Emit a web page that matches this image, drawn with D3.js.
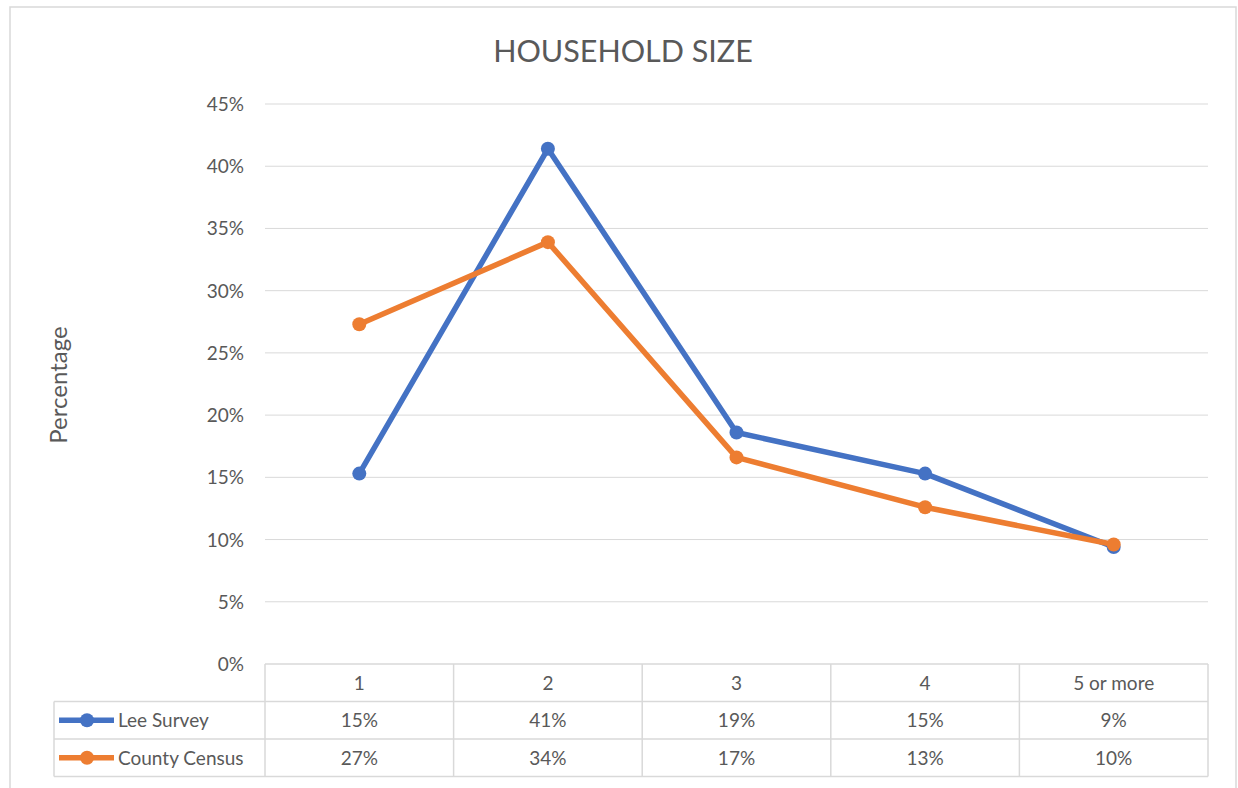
<!DOCTYPE html>
<html>
<head>
<meta charset="utf-8">
<script src="https://cdn.jsdelivr.net/npm/d3@7"></script>
<style>
  body { margin: 0; background: #fff; }
  text { font-family: Lato, "Open Sans", sans-serif; fill: #595959; }
</style>
</head>
<body>
<svg></svg>
<script>
// data
const categories = ['1', '2', '3', '4', '5 or more'];
const leeSurvey = [15.3, 41.4, 18.6, 15.3, 9.4];
const countyCensus = [27.3, 33.9, 16.6, 12.6, 9.6];
const seriesNames = ['Lee Survey', 'County Census'];
const seriesColors = ['#4472C4', '#ED7D31'];
const yTicks = [0, 5, 10, 15, 20, 25, 30, 35, 40, 45];

const width = 1238, height = 788;
const plotLeft = 265, plotRight = 1208, plotTop = 104, plotBottom = 664;
const rowH = 37.5;
const fs = '19px';

const svg = d3.select('svg')
    .attr('width', width)
    .attr('height', height);

// outer frame
svg.append('rect')
    .attr('x', 10).attr('y', 7)
    .attr('width', 1226).attr('height', 800)
    .attr('fill', 'none')
    .attr('stroke', '#d9d9d9')
    .attr('stroke-width', 1.5);

let x = d3.scalePoint()
    .domain(categories)
    .range([plotLeft, plotRight])
    .padding(0.5);

let xBand = d3.scaleBand()
    .domain(categories)
    .range([plotLeft, plotRight]);

let y = d3.scaleLinear()
    .domain([0, 45])
    .range([plotBottom, plotTop]);

// gridlines
svg.append('g')
    .selectAll('line')
    .data(yTicks.filter(d => d > 0))
    .enter()
    .append('line')
        .attr('x1', plotLeft).attr('x2', plotRight)
        .attr('y1', d => y(d)).attr('y2', d => y(d))
        .attr('stroke', '#d9d9d9')
        .attr('stroke-width', 1);

// y tick labels
svg.append('g')
    .selectAll('text')
    .data(yTicks)
    .enter()
    .append('text')
        .attr('x', 244)
        .attr('y', d => y(d) + 7)
        .attr('text-anchor', 'end')
        .style('font-size', fs)
        .text(d => d + '%');

// title
svg.append('text')
    .attr('x', 623).attr('y', 62)
    .attr('text-anchor', 'middle')
    .style('font-size', '30.5px')
    .text('HOUSEHOLD SIZE');

// y axis title
svg.append('text')
    .attr('transform', 'translate(67,385) rotate(-90)')
    .attr('text-anchor', 'middle')
    .style('font-size', '24px')
    .text('Percentage');

// lines and markers
const allSeries = [leeSurvey, countyCensus];
const line = d3.line()
    .x((d, i) => x(categories[i]))
    .y(d => y(d));

allSeries.forEach((vals, s) => {
    svg.append('path')
        .datum(vals)
        .attr('d', line)
        .attr('fill', 'none')
        .attr('stroke', seriesColors[s])
        .attr('stroke-width', 5.5)
        .attr('stroke-linejoin', 'round');
    svg.append('g')
        .selectAll('circle')
        .data(vals)
        .enter()
        .append('circle')
            .attr('cx', (d, i) => x(categories[i]))
            .attr('cy', d => y(d))
            .attr('r', 7)
            .attr('fill', seriesColors[s]);
});

// data table
const tbl = svg.append('g');
const gridColor = '#d9d9d9';
const tblBottom = plotBottom + rowH * 3;

// horizontal lines
tbl.append('line')
    .attr('x1', plotLeft).attr('x2', plotRight)
    .attr('y1', plotBottom).attr('y2', plotBottom)
    .attr('stroke', gridColor).attr('stroke-width', 1.5);
[1, 2, 3].forEach(r => {
    tbl.append('line')
        .attr('x1', 54).attr('x2', plotRight)
        .attr('y1', plotBottom + rowH * r).attr('y2', plotBottom + rowH * r)
        .attr('stroke', gridColor).attr('stroke-width', 1.5);
});
// vertical lines
tbl.append('line')
    .attr('x1', 54).attr('x2', 54)
    .attr('y1', plotBottom + rowH).attr('y2', tblBottom)
    .attr('stroke', gridColor).attr('stroke-width', 1.5);
tbl.selectAll('.vline')
    .data(categories.concat(['end']))
    .enter()
    .append('line')
        .attr('x1', d => d === 'end' ? plotRight : xBand(d))
        .attr('x2', d => d === 'end' ? plotRight : xBand(d))
        .attr('y1', plotBottom).attr('y2', tblBottom)
        .attr('stroke', gridColor).attr('stroke-width', 1.5);

// category labels
tbl.selectAll('.cat')
    .data(categories)
    .enter()
    .append('text')
        .attr('x', d => x(d))
        .attr('y', plotBottom + rowH / 2 + 7)
        .attr('text-anchor', 'middle')
        .style('font-size', fs)
        .text(d => d);

allSeries.forEach((vals, s) => {
    const cy = plotBottom + rowH * (s + 1) + rowH / 2;
    tbl.append('line')
        .attr('x1', 59).attr('x2', 114)
        .attr('y1', cy).attr('y2', cy)
        .attr('stroke', seriesColors[s])
        .attr('stroke-width', 5.5);
    tbl.append('circle')
        .attr('cx', 87).attr('cy', cy)
        .attr('r', 7)
        .attr('fill', seriesColors[s]);
    tbl.append('text')
        .attr('x', 118).attr('y', cy + 7)
        .style('font-size', fs)
        .text(seriesNames[s]);
    tbl.append('g')
        .selectAll('text')
        .data(vals)
        .enter()
        .append('text')
            .attr('x', (d, i) => x(categories[i]))
            .attr('y', cy + 7)
            .attr('text-anchor', 'middle')
            .style('font-size', fs)
            .text(d => Math.round(d) + '%');
});
</script>
</body>
</html>
